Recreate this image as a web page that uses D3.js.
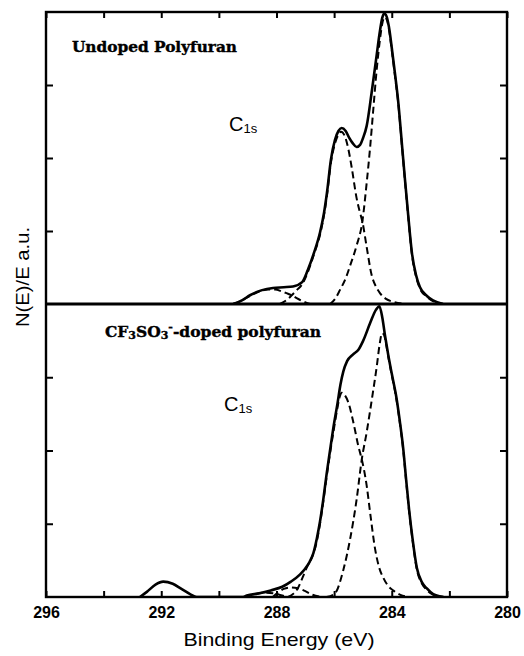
<!DOCTYPE html>
<html>
<head>
<meta charset="utf-8">
<script src="https://cdn.jsdelivr.net/npm/d3@7"></script>
<style>
  html, body { margin: 0; padding: 0; background: #fff; }
  svg { display: block; }
</style>
</head>
<body>
<div id="chart"></div>
<script>
// C1s XPS spectra of polyfuran: binding energy (eV) vs. N(E)/E in arbitrary units.
// Each curve is a list of [binding energy, intensity] pairs.

const energyTicks = [296, 294, 292, 290, 288, 286, 284, 282, 280];
const energyLabels = [296, 292, 288, 284, 280];
const intensityTicks = [1, 2, 3];

// Undoped polyfuran: measured envelope (solid) and fitted components (dashed)
const undopedEnvelope = [
  [289.5, 0], [289.2, 0.05], [288.92, 0.12], [288.5, 0.19], [288.12, 0.22], [287.75, 0.23],
  [287.43, 0.24], [287.11, 0.30], [286.91, 0.47], [286.7, 0.70], [286.49, 0.98], [286.35, 1.25],
  [286.25, 1.52], [286.11, 1.98], [285.97, 2.25], [285.85, 2.37], [285.74, 2.41], [285.6, 2.37],
  [285.48, 2.28], [285.35, 2.2], [285.22, 2.15], [285.1, 2.18], [285.0, 2.27], [284.87, 2.44],
  [284.7, 2.89], [284.52, 3.42], [284.41, 3.74], [284.33, 3.92], [284.26, 3.98], [284.18, 3.94],
  [284.1, 3.8], [283.99, 3.48], [283.88, 3.13], [283.78, 2.79], [283.63, 2.11], [283.54, 1.70],
  [283.43, 1.22], [283.30, 0.70], [283.16, 0.40], [283.02, 0.23], [282.78, 0.11], [282.57, 0.05],
  [282.22, 0]
];
const undopedPeakCC = [
  [286.14, 0], [285.95, 0.08], [285.8, 0.19], [285.6, 0.35], [285.45, 0.52], [285.22, 0.80],
  [285.02, 1.13], [284.87, 1.66], [284.75, 2.15], [284.65, 2.62], [284.52, 3.22], [284.41, 3.62],
  [284.33, 3.84], [284.24, 3.93], [284.16, 3.88], [284.08, 3.72], [283.99, 3.45], [283.88, 3.10],
  [283.78, 2.77], [283.63, 2.09], [283.54, 1.68], [283.43, 1.20], [283.30, 0.68], [283.16, 0.38],
  [283.02, 0.21], [282.78, 0.10], [282.57, 0.04], [282.22, 0]
];
const undopedPeakCO = [
  [287.88, 0], [287.6, 0.07], [287.47, 0.12], [287.3, 0.19], [287.11, 0.27], [286.91, 0.44],
  [286.7, 0.68], [286.49, 0.95], [286.35, 1.22], [286.25, 1.48], [286.11, 1.94], [285.97, 2.2],
  [285.85, 2.32], [285.76, 2.36], [285.64, 2.31], [285.51, 2.13], [285.39, 1.87], [285.22, 1.45],
  [285.1, 1.25], [285.02, 1.13], [284.87, 0.78], [284.7, 0.40], [284.55, 0.24], [284.41, 0.15],
  [284.2, 0.07], [283.95, 0.03], [283.48, 0]
];
const undopedPeakHigh = [
  [289.5, 0], [289.2, 0.05], [288.92, 0.11], [288.6, 0.17], [288.3, 0.20], [288.05, 0.20],
  [287.8, 0.17], [287.6, 0.14], [287.47, 0.12], [287.3, 0.08], [287.1, 0.04], [286.84, 0]
];

// CF3SO3- doped polyfuran
const dopedEnvelope = [
  [292.74, 0], [292.5, 0.07], [292.2, 0.17], [291.93, 0.21], [291.6, 0.18], [291.3, 0.11],
  [291.0, 0.04], [290.77, 0], [289.16, 0], [289.03, 0.02], [288.6, 0.05], [288.2, 0.09],
  [287.8, 0.14], [287.5, 0.21], [287.18, 0.31], [287.0, 0.39], [286.85, 0.48], [286.72, 0.6],
  [286.6, 0.8], [286.49, 1.03], [286.37, 1.35], [286.26, 1.68], [286.15, 1.98], [286.03, 2.3],
  [285.88, 2.65], [285.78, 2.9], [285.68, 3.08], [285.55, 3.22], [285.35, 3.31], [285.15, 3.38],
  [284.99, 3.5], [284.75, 3.74], [284.55, 3.92], [284.43, 3.97], [284.33, 3.82], [284.23, 3.56],
  [284.12, 3.3], [284.0, 3.05], [283.85, 2.75], [283.72, 2.4], [283.6, 2.02], [283.5, 1.6],
  [283.4, 1.2], [283.28, 0.8], [283.13, 0.4], [282.95, 0.2], [282.79, 0.12], [282.56, 0.04],
  [282.2, 0]
];
const dopedPeakCC = [
  [286.26, 0], [285.97, 0.05], [285.68, 0.37], [285.45, 0.78], [285.22, 1.33], [285.04, 1.88],
  [284.87, 2.25], [284.69, 2.70], [284.52, 3.15], [284.42, 3.45], [284.34, 3.6], [284.27, 3.58],
  [284.2, 3.46], [284.12, 3.28], [284.0, 3.03], [283.85, 2.73], [283.72, 2.38], [283.6, 2.0],
  [283.5, 1.58], [283.4, 1.18], [283.28, 0.78], [283.13, 0.38], [282.95, 0.18], [282.79, 0.1],
  [282.56, 0.03], [282.2, 0]
];
const dopedPeakCO = [
  [287.6, 0], [287.4, 0.05], [287.26, 0.12], [287.1, 0.26], [286.93, 0.42], [286.78, 0.53],
  [286.6, 0.76], [286.49, 1.0], [286.37, 1.32], [286.26, 1.64], [286.15, 1.94], [286.03, 2.24],
  [285.9, 2.55], [285.8, 2.74], [285.74, 2.79], [285.64, 2.76], [285.51, 2.66], [285.33, 2.38],
  [285.16, 2.06], [285.04, 1.88], [284.87, 1.52], [284.75, 1.15], [284.58, 0.66], [284.45, 0.42],
  [284.29, 0.26], [284.1, 0.14], [283.95, 0.09], [283.7, 0.03], [283.37, 0]
];
const dopedPeakCOO = [
  [288.13, 0], [287.95, 0.06], [287.75, 0.11], [287.5, 0.13], [287.26, 0.12], [287.0, 0.08],
  [286.75, 0.03], [286.4, 0]
];
const dopedPeakHigh = [
  [289.1, 0], [288.8, 0.03], [288.45, 0.06], [288.1, 0.05], [287.8, 0.02], [287.6, 0]
];

const W = 524, H = 656;
const plotLeft = 46, plotRight = 507, plotTop = 12, plotMid = 304, plotBottom = 597;

const svg = d3.select("#chart").append("svg")
  .attr("width", W).attr("height", H)
  .attr("viewBox", `0 0 ${W} ${H}`);

const x = d3.scaleLinear().domain([296, 280]).range([plotLeft, plotRight]);
const yTop = d3.scaleLinear().domain([0, 4]).range([plotMid, plotTop]);
const yBot = d3.scaleLinear().domain([0, 4]).range([plotBottom, plotMid]);

const sans = "'Liberation Sans', Arial, Helvetica, sans-serif";
const slab = "'DejaVu Serif', serif";

function drawPanel(y, envelope, components, clipId, y0, y1) {
  svg.append("clipPath").attr("id", clipId)
    .append("rect").attr("x", plotLeft).attr("y", y0 - 2)
    .attr("width", plotRight - plotLeft).attr("height", y1 - y0 + 2);
  const g = svg.append("g").attr("clip-path", `url(#${clipId})`);
  const line = d3.line()
    .x(d => x(d[0]))
    .y(d => y(d[1]))
    .curve(d3.curveMonotoneX);
  components.forEach(c => {
    g.append("path").datum(c)
      .attr("d", line)
      .attr("fill", "none")
      .attr("stroke", "#000")
      .attr("stroke-width", 2)
      .attr("stroke-dasharray", "7,4");
  });
  g.append("path").datum(envelope)
    .attr("d", line)
    .attr("fill", "none")
    .attr("stroke", "#000")
    .attr("stroke-width", 2.6)
    .attr("stroke-linejoin", "round");

  // inward ticks on left and right edges
  const yl = d3.axisLeft(y).tickValues(intensityTicks).tickSizeInner(-7).tickSizeOuter(0).tickFormat("");
  const yr = d3.axisRight(y).tickValues(intensityTicks).tickSizeInner(-7).tickSizeOuter(0).tickFormat("");
  svg.append("g").attr("transform", `translate(${plotLeft},0)`).call(yl);
  svg.append("g").attr("transform", `translate(${plotRight},0)`).call(yr);
}

drawPanel(yTop, undopedEnvelope, [undopedPeakCC, undopedPeakCO, undopedPeakHigh], "clipTop", plotTop, plotMid);
drawPanel(yBot, dopedEnvelope, [dopedPeakCC, dopedPeakCO, dopedPeakCOO, dopedPeakHigh], "clipBot", plotMid, plotBottom);

// energy axes: inward ticks on the top edge and the bottom edge
svg.append("g").attr("transform", `translate(0,${plotTop})`)
  .call(d3.axisTop(x).tickValues(energyTicks).tickSizeInner(-6).tickSizeOuter(0).tickFormat(""));
const xb = svg.append("g").attr("class", "xaxis").attr("transform", `translate(0,${plotBottom})`)
  .call(d3.axisBottom(x).tickValues(energyTicks).tickSizeInner(-6).tickSizeOuter(0).tickPadding(10)
    .tickFormat(d => energyLabels.includes(d) ? d : ""));
xb.selectAll("text")
  .attr("font-family", sans).attr("font-size", 16).attr("font-weight", "bold").attr("fill", "#000");

svg.selectAll(".domain").remove();
svg.selectAll(".tick line").attr("stroke", "#000").attr("stroke-width", 2);

// frame and divider between the two spectra
svg.append("rect")
  .attr("x", plotLeft).attr("y", plotTop)
  .attr("width", plotRight - plotLeft).attr("height", plotBottom - plotTop)
  .attr("fill", "none").attr("stroke", "#000").attr("stroke-width", 2.4);
svg.append("line")
  .attr("x1", plotLeft).attr("x2", plotRight).attr("y1", plotMid).attr("y2", plotMid)
  .attr("stroke", "#000").attr("stroke-width", 2.8);

// panel titles
svg.append("text")
  .attr("x", 72).attr("y", 52)
  .attr("font-family", slab).attr("font-weight", "bold").attr("font-size", 15)
  .attr("stroke", "#000").attr("stroke-width", 0.4)
  .attr("textLength", 165).attr("lengthAdjust", "spacingAndGlyphs")
  .text("Undoped Polyfuran");

const t2 = svg.append("text")
  .attr("x", 105).attr("y", 337)
  .attr("font-family", slab).attr("font-weight", "bold").attr("font-size", 15.5)
  .attr("stroke", "#000").attr("stroke-width", 0.4);
t2.append("tspan").text("CF");
t2.append("tspan").attr("font-size", 11).attr("dy", 2).text("3");
t2.append("tspan").attr("dy", -2).text("SO");
t2.append("tspan").attr("font-size", 11).attr("dy", 2).text("3");
t2.append("tspan").attr("font-size", 11).attr("dy", -8).text("-");
t2.append("tspan").attr("dy", 6).text("-doped polyfuran");

// C1s labels
function c1s(xp, yp) {
  const t = svg.append("text").attr("x", xp).attr("y", yp)
    .attr("font-family", sans).attr("font-size", 20);
  t.append("tspan").text("C");
  t.append("tspan").attr("font-size", 13).attr("dy", 2).text("1s");
}
c1s(229, 131);
c1s(224, 411);

// axis titles
svg.append("text")
  .attr("transform", "translate(29,277) rotate(-90)")
  .attr("text-anchor", "middle")
  .attr("font-family", sans).attr("font-size", 18)
  .attr("textLength", 100).attr("lengthAdjust", "spacingAndGlyphs")
  .text("N(E)/E a.u.");

svg.append("text")
  .attr("x", 279).attr("y", 646)
  .attr("text-anchor", "middle")
  .attr("font-family", sans).attr("font-size", 19)
  .attr("textLength", 191).attr("lengthAdjust", "spacingAndGlyphs")
  .text("Binding Energy (eV)");
</script>
</body>
</html>
